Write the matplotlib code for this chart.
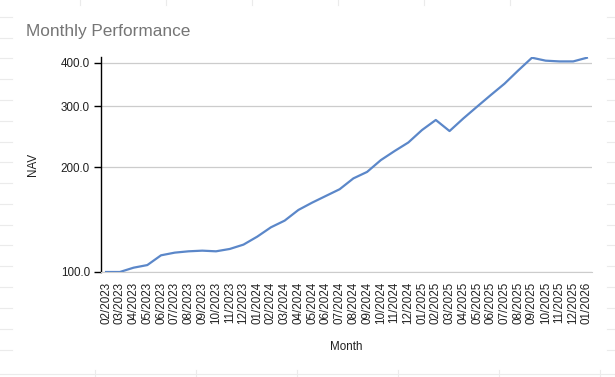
import numpy as np
import matplotlib
matplotlib.use("Agg")
import matplotlib.pyplot as plt
from matplotlib.lines import Line2D
from matplotlib.ticker import FixedLocator, FormatStrFormatter, NullLocator

plt.rcParams['font.family'] = ['Liberation Sans', 'DejaVu Sans']

## data
months = ["02/2023", "03/2023", "04/2023", "05/2023", "06/2023", "07/2023",
          "08/2023", "09/2023", "10/2023", "11/2023", "12/2023", "01/2024",
          "02/2024", "03/2024", "04/2024", "05/2024", "06/2024", "07/2024",
          "08/2024", "09/2024", "10/2024", "11/2024", "12/2024", "01/2025",
          "02/2025", "03/2025", "04/2025", "05/2025", "06/2025", "07/2025",
          "08/2025", "09/2025", "10/2025", "11/2025", "12/2025", "01/2026"]
nav = [100.0, 100.0, 102.9, 104.7, 111.7, 113.7, 114.7, 115.2, 114.7, 116.5,
       119.9, 126.4, 134.5, 140.6, 150.9, 158.4, 165.6, 173.1, 186.0, 194.2,
       210.0, 223.0, 236.0, 256.4, 274.0, 254.6, 276.7, 299.2, 323.2, 348.5,
       380.5, 414.0, 406.0, 404.0, 404.0, 414.0]
yticks = [100, 200, 300, 400]

W, H = 615, 377
fig = plt.figure(figsize=(W / 100, H / 100), dpi=100)

## faint spreadsheet cells behind the chart
grid_c = "#ebebeb"
for y in np.arange(16.7, 360, 20.8):
    fig.add_artist(Line2D([0, 12 / W], [1 - y / H] * 2, color=grid_c, lw=0.8))
    fig.add_artist(Line2D([607 / W, 1], [1 - y / H] * 2, color=grid_c, lw=0.8))
fig.add_artist(Line2D([0, 1], [1 - 374 / H] * 2, color=grid_c, lw=0.8))
for x in np.arange(95, W, 101):
    fig.add_artist(Line2D([x / W] * 2, [0, 1 - 370 / H], color=grid_c, lw=0.8))
for x in np.arange(80, 560, 86):
    fig.add_artist(Line2D([x / W] * 2, [1, 1 - 5 / H], color=grid_c, lw=0.8))

ax = fig.add_axes([101 / W, 1 - 272 / H, (592 - 101) / W, (272 - 57) / H])
x = np.arange(len(months))
ax.plot(x, nav, color="#5b87c9", lw=1.6, solid_joinstyle="round", zorder=3)

ax.set_yscale("log")
ax.set_ylim(100, 416)
ax.yaxis.set_major_locator(FixedLocator(yticks))
ax.yaxis.set_major_formatter(FormatStrFormatter("%.1f"))
ax.yaxis.set_minor_locator(NullLocator())
ax.set_xlim(-0.37, len(months) - 1 + 0.37)
ax.set_xticks(x)
ax.set_xticklabels(months, rotation=90, fontsize=8.4, color="#222222")

ax.grid(axis="y", color="#cccccc", lw=0.9)
ax.set_axisbelow(True)
for s in ["top", "right"]:
    ax.spines[s].set_visible(False)
ax.spines["bottom"].set_color("#cccccc")
ax.spines["left"].set_color("black")
ax.spines["left"].set_linewidth(1.0)
ax.tick_params(axis="x", length=0, pad=7)
ax.tick_params(axis="y", length=5, width=1, color="black", labelsize=8.4,
               labelcolor="#222222", pad=3)

ax.set_xlabel("Month", fontsize=8.4, color="#222222")
ax.set_ylabel("NAV", fontsize=8.4, color="#222222")
ax.xaxis.set_label_coords(0.5, -(347 - 272) / 215, transform=ax.transAxes)
ax.yaxis.set_label_coords(-(101 - 33) / 491, 0.5, transform=ax.transAxes)
ax.xaxis.label.set_va("center")
ax.yaxis.label.set_va("center")
fig.text(26 / W, 1 - 36 / H, "Monthly Performance", fontsize=12.4,
         color="#757575", ha="left", va="baseline")

fig.savefig("out.png", dpi=100)
